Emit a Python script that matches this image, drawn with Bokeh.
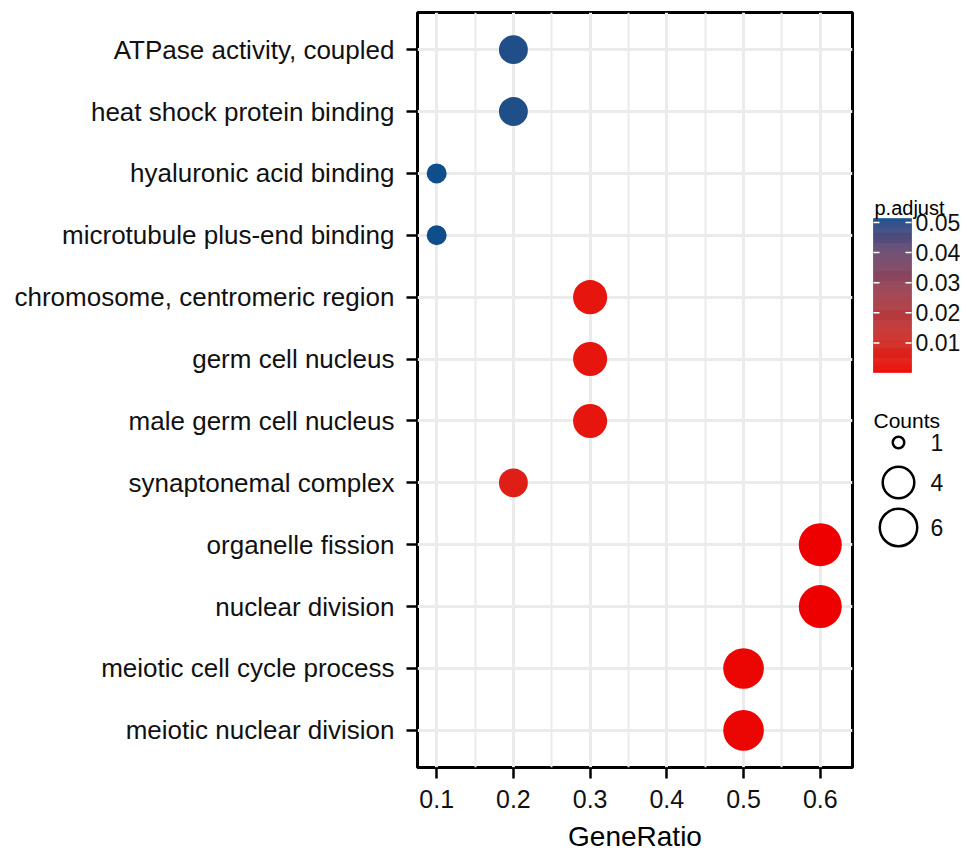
import numpy as np
from bokeh.plotting import figure
from bokeh.models import Range1d, FixedTicker, ColumnDataSource
from bokeh.layouts import row
from bokeh.embed import file_html
from bokeh.resources import INLINE
from bokeh.core.properties import value

# ---------------- data ----------------
terms = ["ATPase activity, coupled", "heat shock protein binding", "hyaluronic acid binding",
         "microtubule plus-end binding", "chromosome, centromeric region", "germ cell nucleus",
         "male germ cell nucleus", "synaptonemal complex", "organelle fission", "nuclear division",
         "meiotic cell cycle process", "meiotic nuclear division"]
gene_ratio = [0.2, 0.2, 0.1, 0.1, 0.3, 0.3, 0.3, 0.2, 0.6, 0.6, 0.5, 0.5]
counts = [2, 2, 1, 1, 3, 3, 3, 2, 6, 6, 5, 5]
p_adjust = [0.0505, 0.0505, 0.0513, 0.0513, 0.003, 0.003, 0.003, 0.005,
            0.0002, 0.0002, 0.0008, 0.0008]
x_ticks = [0.1, 0.2, 0.3, 0.4, 0.5, 0.6]
cbar_ticks = [0.01, 0.02, 0.03, 0.04, 0.05]
size_breaks = [1, 4, 6]

FONT = "Liberation Sans"
LOW, HIGH = "#EE0000", "#104E8B"

# ---------------- colour helpers (Lab interpolation like ggplot) ----------------
M = np.array([[0.4124564, 0.3575761, 0.1804375],
              [0.2126729, 0.7151522, 0.0721750],
              [0.0193339, 0.1191920, 0.9503041]])
Minv = np.linalg.inv(M)
WP = np.array([0.95047, 1.0, 1.08883])


def hex_to_lab(h):
    rgb = np.array([int(h[i:i + 2], 16) for i in (1, 3, 5)]) / 255.0
    lin = np.where(rgb <= 0.04045, rgb / 12.92, ((rgb + 0.055) / 1.055) ** 2.4)
    t = (M @ lin) / WP
    d = 6 / 29
    f = np.where(t > d ** 3, np.cbrt(t), t / (3 * d * d) + 4 / 29)
    return np.array([116 * f[1] - 16, 500 * (f[0] - f[1]), 200 * (f[1] - f[2])])


def lab_to_hex(lab):
    L, a, b = lab
    fy = (L + 16) / 116
    f = np.array([fy + a / 500, fy, fy - b / 200])
    d = 6 / 29
    t = np.where(f > d, f ** 3, 3 * d * d * (f - 4 / 29))
    lin = np.clip(Minv @ (t * WP), 0, 1)
    rgb = np.where(lin <= 0.0031308, 12.92 * lin, 1.055 * lin ** (1 / 2.4) - 0.055)
    r, g, b2 = (np.clip(np.round(rgb * 255), 0, 255)).astype(int)
    return "#%02x%02x%02x" % (r, g, b2)


LAB_LO, LAB_HI = hex_to_lab(LOW), hex_to_lab(HIGH)
PMIN, PMAX = min(p_adjust), max(p_adjust)


def pcolor(v):
    t = (v - PMIN) / (PMAX - PMIN)
    return lab_to_hex(LAB_LO + t * (LAB_HI - LAB_LO))


def dot_size(c):
    return 20 + 12.84 * np.log(c)


# ---------------- main plot ----------------
TOP, FRAME_H = 12, 755
n = len(terms)
y_pos = [n - i for i in range(n)]
src = ColumnDataSource(dict(
    x=gene_ratio, y=y_pos, term=terms,
    d=[dot_size(c) for c in counts],
    color=[pcolor(v) for v in p_adjust]))

p = figure(frame_width=435, frame_height=FRAME_H,
           x_range=Range1d(0.075, 0.642), y_range=Range1d(0.4, n + 0.6),
           output_backend="svg", toolbar_location=None, title=None,
           min_border_left=417, min_border_right=8, min_border_top=TOP, min_border_bottom=80)
p.background_fill_color = "white"
p.outline_line_color = "black"
p.outline_line_width = 3

minor = [(a + b) / 2 for a, b in zip(x_ticks[:-1], x_ticks[1:])]
p.xaxis.ticker = FixedTicker(ticks=x_ticks, minor_ticks=minor)
p.yaxis.ticker = FixedTicker(ticks=y_pos)
p.yaxis.major_label_overrides = {yy: t for yy, t in zip(y_pos, terms)}
p.xaxis.major_label_overrides = {v: "%.1f" % v for v in x_ticks}

for ax in (p.xaxis[0], p.yaxis[0]):
    ax.axis_line_color = None
    ax.major_tick_line_color = "black"
    ax.major_tick_line_width = 2.5
    ax.major_tick_out = 11
    ax.major_tick_in = 0
    ax.minor_tick_line_color = None
    ax.major_label_text_font = FONT
    ax.major_label_text_color = "#111111"

p.yaxis.major_label_text_font_size = "26px"
p.yaxis.major_label_standoff = 12
p.xaxis.major_label_text_font_size = "25px"
p.xaxis.major_label_standoff = 11
p.xaxis.axis_label = "GeneRatio"
p.xaxis.axis_label_text_font = FONT
p.xaxis.axis_label_text_font_size = "28px"
p.xaxis.axis_label_text_font_style = "normal"
p.xaxis.axis_label_text_color = "black"
p.xaxis.axis_label_standoff = 10

p.xgrid.grid_line_color = "#EBEBEB"
p.xgrid.grid_line_width = 3
p.xgrid.minor_grid_line_color = "#EBEBEB"
p.xgrid.minor_grid_line_width = 2
p.ygrid.grid_line_color = "#EBEBEB"
p.ygrid.grid_line_width = 3

p.scatter(x="x", y="y", size="d", fill_color="color", line_color=None, source=src)

# ---------------- legend panel (pixel coordinates; frame aligned with main frame) ----------------
W = 107
lg = figure(frame_width=W, frame_height=FRAME_H, x_range=Range1d(0, W),
            y_range=Range1d(TOP + FRAME_H, TOP),
            output_backend="svg", toolbar_location=None, title=None,
            x_axis_type=None, y_axis_type=None,
            min_border_left=0, min_border_right=0, min_border_top=TOP, min_border_bottom=80)
lg.outline_line_color = None
lg.grid.visible = False

# colour bar
bx0, bx1 = 13, 51
by_top, by_bot = 218, 372


def p_to_y(v):
    return by_bot - (v - PMIN) / (PMAX - PMIN) * (by_bot - by_top)


nseg = 150
vs = np.linspace(PMIN, PMAX, nseg + 1)
cols = [pcolor((a + b) / 2) for a, b in zip(vs[:-1], vs[1:])]
lg.quad(left=bx0, right=bx1, top=[p_to_y(v) for v in vs[1:]], bottom=[p_to_y(v) for v in vs[:-1]],
        fill_color=cols, line_color=cols, line_width=0.6)
ty = [p_to_y(v) for v in cbar_ticks]
lg.segment(x0=bx0, x1=bx0 + 6, y0=ty, y1=ty, line_color="white", line_width=1.5)
lg.segment(x0=bx1 - 6, x1=bx1, y0=ty, y1=ty, line_color="white", line_width=1.5)
lg.text(x=55, y=ty, text=["%.2f" % v for v in cbar_ticks], text_baseline="middle",
        text_font=value(FONT), text_font_size="23px", text_color="#111111")
lg.text(x=[14], y=[207], text=["p.adjust"], text_baseline="alphabetic",
        text_font=value(FONT), text_font_size="20px", text_color="black")

# size legend
lg.text(x=[13], y=[420], text=["Counts"], text_baseline="alphabetic",
        text_font=value(FONT), text_font_size="21px", text_color="black")
leg_y = [442, 482, 527]
leg_d = [14 + 14.5 * np.log(c) for c in size_breaks]
lg.scatter(x=[38] * len(size_breaks), y=leg_y, size=[d - 2.5 for d in leg_d],
           fill_color=None, line_color="black", line_width=2.5)
lg.text(x=70, y=leg_y, text=[str(c) for c in size_breaks], text_baseline="middle",
        text_font=value(FONT), text_font_size="23px", text_color="#111111")

layout = row(p, lg)
open("out.html", "w").write(file_html(layout, INLINE))
